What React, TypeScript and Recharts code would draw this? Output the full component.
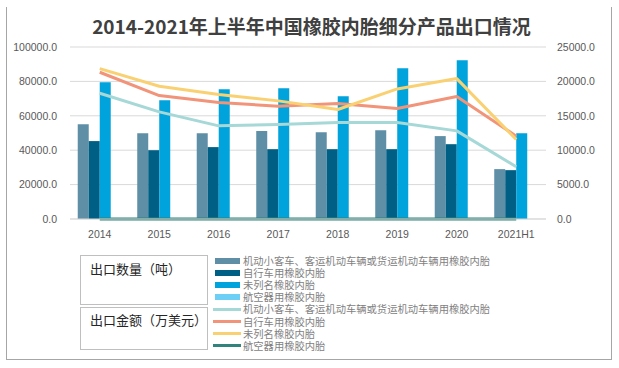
import { ComposedChart, Bar, Line, XAxis, YAxis, CartesianGrid } from "recharts";

const YEARS = ["2014", "2015", "2016", "2017", "2018", "2019", "2020", "2021H1"];

// 出口数量（吨）
const QTY_CAR = [55100, 49900, 49900, 51100, 50500, 51600, 48200, 29000];
const QTY_BIKE = [45300, 40000, 41800, 40600, 40600, 40600, 43500, 28400];
const QTY_OTHER = [79500, 69100, 75400, 76000, 71400, 87600, 92300, 49900];
const QTY_AIR = [30, 25, 40, 20, 35, 15, 30, 10];

// 出口金额（万美元）
const AMT_CAR = [18280, 15570, 13540, 13730, 14020, 14020, 12810, 7590];
const AMT_BIKE = [21330, 17940, 16930, 16390, 16780, 16050, 17800, 12040];
const AMT_OTHER = [21860, 19290, 18090, 17170, 15910, 18910, 20410, 11560];
const AMT_AIR = [12, 10, 15, 9, 11, 8, 14, 6];

const LEFT_TICKS = [0, 20000, 40000, 60000, 80000, 100000];
const RIGHT_TICKS = [0, 5000, 10000, 15000, 20000, 25000];

const SERIES_NAMES = [
  "机动小客车、客运机动车辆或货运机动车辆用橡胶内胎",
  "自行车用橡胶内胎",
  "未列名橡胶内胎",
  "航空器用橡胶内胎",
];

const BAR_COLORS = ["#5e8fa7", "#005f84", "#00a3db", "#6dcff6"];
const LINE_COLORS = ["#a5d8d6", "#f19479", "#f9d173", "#31837d"];

const data = YEARS.map((year, i) => ({
  year,
  qCar: QTY_CAR[i],
  qBike: QTY_BIKE[i],
  qOther: QTY_OTHER[i],
  qAir: QTY_AIR[i],
  aCar: AMT_CAR[i],
  aBike: AMT_BIKE[i],
  aOther: AMT_OTHER[i],
  aAir: AMT_AIR[i],
}));

const tickStyle = { fontSize: 10.5, fill: "#595959", fontFamily: "Liberation Sans, Arial, sans-serif" };
const fmt = (v: number) => v.toFixed(1);

export default function App() {
  const rowY = (i: number) => 261 + i * 12.1;

  return (
    <div
      style={{
        position: "absolute",
        left: 0,
        top: 0,
        width: 619,
        height: 368,
        background: "#fff",
        fontFamily: "'Noto Sans CJK SC', sans-serif",
      }}
    >
      <div
        style={{
          position: "absolute",
          left: 6,
          top: 7,
          width: 604,
          height: 352,
          borderLeft: "1.5px solid #a6a6a6",
          borderRight: "1.5px solid #a6a6a6",
          borderBottom: "1.5px solid #a6a6a6",
        }}
      />
      <div
        style={{
          position: "absolute",
          left: 0,
          top: 14,
          width: 623,
          textAlign: "center",
          fontSize: 19,
          fontWeight: 700,
          color: "#404040",
          lineHeight: "24px",
          whiteSpace: "nowrap",
        }}
      >
        2014-2021年上半年中国橡胶内胎细分产品出口情况
      </div>

      <div style={{ position: "absolute", left: 0, top: 0 }}>
        <ComposedChart
          width={619}
          height={245}
          data={data}
          margin={{ top: 47, right: 0, left: 0, bottom: 6 }}
          barCategoryGap="13%"
          barGap={0}
        >
          <CartesianGrid yAxisId="left" vertical={false} stroke="#d9d9d9" />
          <XAxis
            dataKey="year"
            height={20}
            axisLine={{ stroke: "#d9d9d9" }}
            tickLine={false}
            tickSize={0}
            tickMargin={12}
            tick={tickStyle}
            interval={0}
          />
          <YAxis
            yAxisId="left"
            width={70}
            domain={[0, 100000]}
            ticks={LEFT_TICKS}
            tickFormatter={fmt}
            axisLine={false}
            tickLine={false}
            tickSize={0}
            tickMargin={13}
            tick={tickStyle}
          />
          <YAxis
            yAxisId="right"
            orientation="right"
            width={73}
            domain={[0, 25000]}
            ticks={RIGHT_TICKS}
            tickFormatter={fmt}
            axisLine={false}
            tickLine={false}
            tickSize={0}
            tickMargin={11}
            tick={{ ...tickStyle, textAnchor: "start" }}
          />
          <Bar yAxisId="left" dataKey="qCar" fill={BAR_COLORS[0]} isAnimationActive={false} />
          <Bar yAxisId="left" dataKey="qBike" fill={BAR_COLORS[1]} isAnimationActive={false} />
          <Bar yAxisId="left" dataKey="qOther" fill={BAR_COLORS[2]} isAnimationActive={false} />
          <Bar yAxisId="left" dataKey="qAir" fill={BAR_COLORS[3]} isAnimationActive={false} />
          <Line yAxisId="right" type="linear" dataKey="aCar" stroke={LINE_COLORS[0]} strokeWidth={3} strokeLinejoin="round" dot={false} isAnimationActive={false} />
          <Line yAxisId="right" type="linear" dataKey="aBike" stroke={LINE_COLORS[1]} strokeWidth={3} strokeLinejoin="round" dot={false} isAnimationActive={false} />
          <Line yAxisId="right" type="linear" dataKey="aOther" stroke={LINE_COLORS[2]} strokeWidth={3} strokeLinejoin="round" dot={false} isAnimationActive={false} />
          <Line yAxisId="right" type="linear" dataKey="aAir" stroke={LINE_COLORS[3]} strokeWidth={3} strokeLinejoin="round" dot={false} isAnimationActive={false} />
        </ComposedChart>
      </div>

      {/* group boxes */}
      <div style={{ position: "absolute", left: 80, top: 255, width: 128, height: 50, border: "1px solid #bfbfbf", boxSizing: "border-box" }} />
      <div style={{ position: "absolute", left: 80, top: 307, width: 128, height: 43, border: "1px solid #bfbfbf", boxSizing: "border-box" }} />
      <div style={{ position: "absolute", left: 90, top: 261, fontSize: 13, color: "#262626", lineHeight: "16px" }}>出口数量（吨）</div>
      <div style={{ position: "absolute", left: 90, top: 312, fontSize: 13, color: "#262626", lineHeight: "16px" }}>出口金额（万美元）</div>

      {SERIES_NAMES.map((name, i) => (
        <div key={"b" + i}>
          <div style={{ position: "absolute", left: 215, top: rowY(i) - 3, width: 25, height: 6, background: BAR_COLORS[i] }} />
          <div style={{ position: "absolute", left: 243, top: rowY(i) - 6, fontSize: 10.3, lineHeight: "12px", color: "#7f7f7f", whiteSpace: "nowrap" }}>{name}</div>
        </div>
      ))}
      {SERIES_NAMES.map((name, i) => (
        <div key={"l" + i}>
          <div style={{ position: "absolute", left: 213, top: rowY(i + 4) - 1.5, width: 28, height: 3, background: LINE_COLORS[i] }} />
          <div style={{ position: "absolute", left: 243, top: rowY(i + 4) - 6, fontSize: 10.3, lineHeight: "12px", color: "#7f7f7f", whiteSpace: "nowrap" }}>{name}</div>
        </div>
      ))}
    </div>
  );
}
